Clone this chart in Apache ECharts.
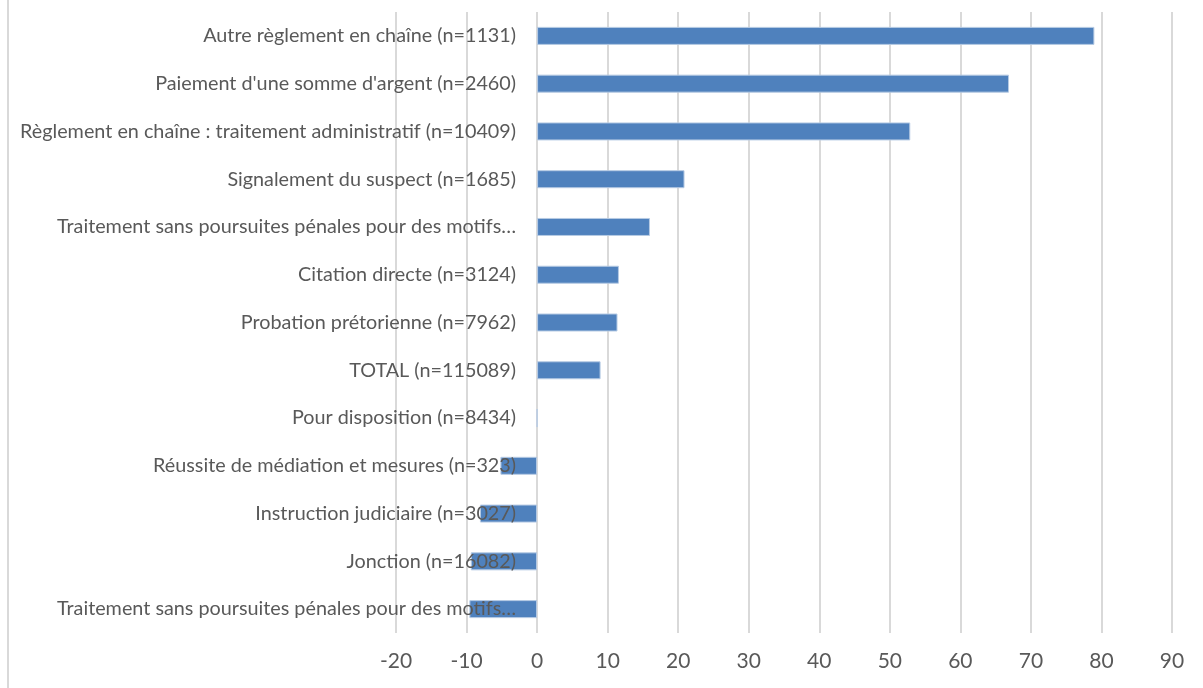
<!DOCTYPE html>
<html>
<head>
<meta charset="utf-8">
<script src="https://cdn.jsdelivr.net/npm/echarts@6/dist/echarts.min.js"></script>
<style>
  html, body { margin: 0; padding: 0; background: #fff; }
  #chart { width: 1203px; height: 688px; }
</style>
</head>
<body>
<div id="chart"></div>
<script>
const categories = [
  "Autre règlement en chaîne (n=1131)",
  "Paiement d'une somme d'argent (n=2460)",
  "Règlement en chaîne : traitement administratif (n=10409)",
  "Signalement du suspect (n=1685)",
  "Traitement sans poursuites pénales pour des motifs…",
  "Citation directe (n=3124)",
  "Probation prétorienne (n=7962)",
  "TOTAL (n=115089)",
  "Pour disposition (n=8434)",
  "Réussite de médiation et mesures (n=323)",
  "Instruction judiciaire (n=3027)",
  "Jonction (n=16082)",
  "Traitement sans poursuites pénales pour des motifs… "
];
const values = [79, 66.9, 52.9, 20.9, 16, 11.6, 11.4, 9, 0, -5.2, -8.1, -9.4, -9.6];
const xTicks = { min: -20, max: 90, interval: 10 };

const chart = echarts.init(document.getElementById("chart"));
const font = "Lato";
const gridLeft = 396;
const gridRight = 31;
// put the category labels next to the zero line, like the spreadsheet does
const plotWidth = 1203 - gridLeft - gridRight;
const zeroOffset = plotWidth * (0 - xTicks.min) / (xTicks.max - xTicks.min);

chart.setOption({
  animation: false,
  graphic: [{
    type: "line",
    shape: { x1: 8, y1: 0, x2: 8, y2: 688 },
    style: { stroke: "#d9d9d9", lineWidth: 2 }
  }],
  grid: { left: gridLeft, right: gridRight, top: 12, bottom: 55, containLabel: false, outerBoundsMode: "none" },
  xAxis: {
    type: "value",
    min: xTicks.min,
    max: xTicks.max,
    interval: xTicks.interval,
    axisLine: { show: false },
    axisTick: { show: false },
    splitLine: { lineStyle: { color: "#d9d9d9", width: 2 } },
    axisLabel: { color: "#595959", fontFamily: font, fontSize: 21, margin: 18 }
  },
  yAxis: {
    type: "category",
    inverse: true,
    data: categories,
    offset: -zeroOffset,
    z: 5,
    axisLine: { show: false },
    axisTick: { show: false },
    axisLabel: {
      color: "#595959", fontFamily: font, fontSize: 19.8, margin: 21, interval: 0,
      formatter: (v) => v.trim()
    }
  },
  series: [{
    type: "bar",
    data: values,
    barWidth: 18,
    itemStyle: { color: "#4f81bd", borderColor: "#b7cbe4", borderWidth: 1 },
    z: 2
  }]
});
</script>
</body>
</html>
